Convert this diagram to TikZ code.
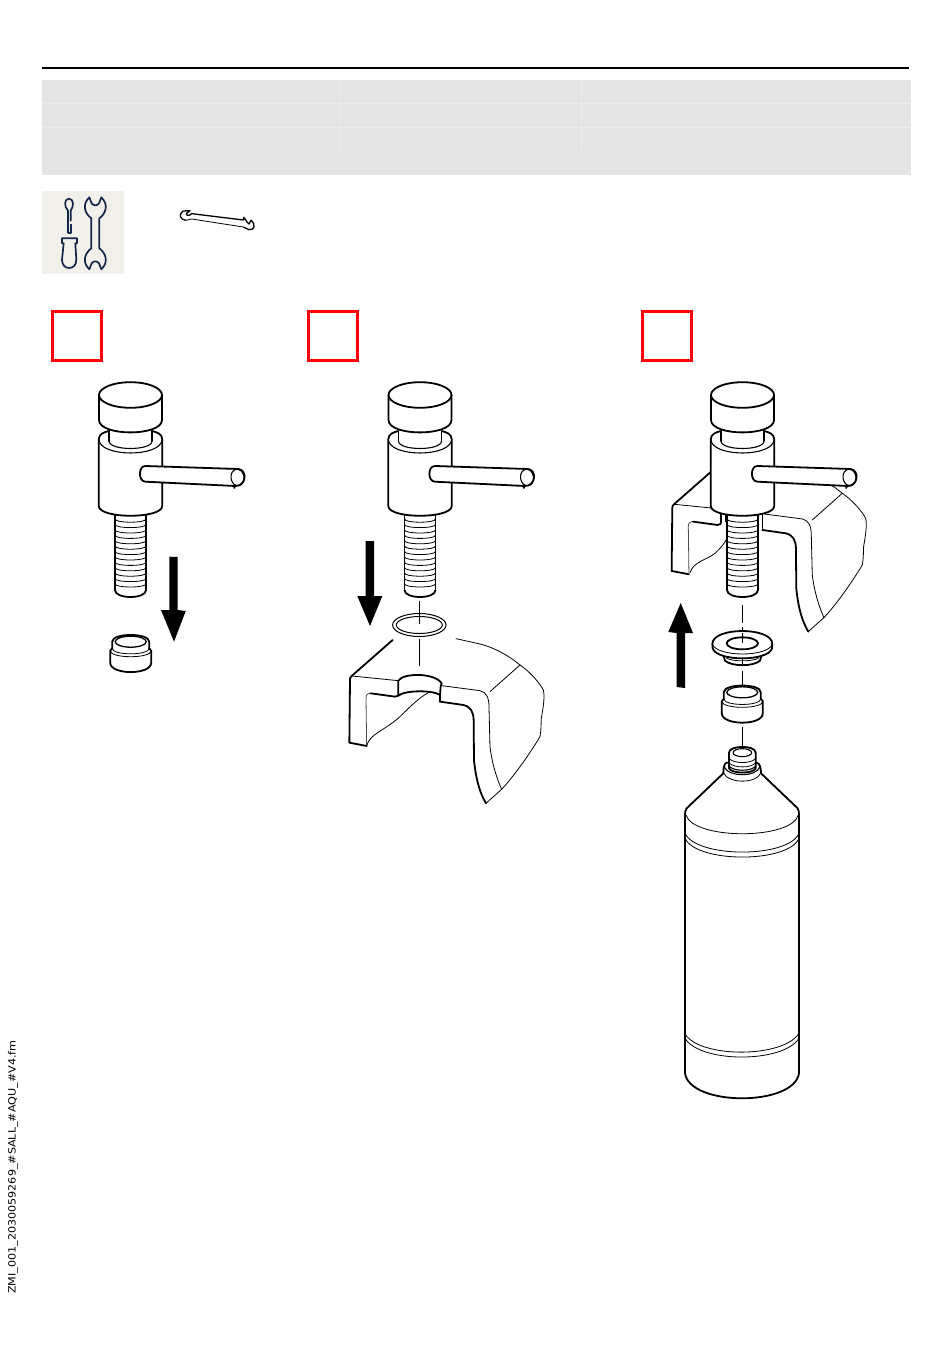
\documentclass[tikz,border=0pt]{standalone}
\usepackage{fontspec}
\setmainfont{DejaVu Sans}
\definecolor{band}{HTML}{E4E4E4}
\definecolor{bandline}{HTML}{EBEBEB}
\definecolor{iconbg}{HTML}{F1F0EB}
\definecolor{navy}{HTML}{16264A}
\tikzset{
  thick line/.style={line width=1.8pt,line join=round,line cap=round},
  med line/.style={line width=1.1pt,line join=round,line cap=round},
  thin line/.style={line width=.8pt,line join=round,line cap=round},
  redbox/.style={draw=red,line width=3pt,fill=white},
  blockarrow/.style={fill=black,draw=none},
  iconline/.style={draw=navy,line width=1.7pt,line join=round,line cap=round},
  axisline/.style={line width=.8pt,black},
}
\newcommand{\larc}[4][med line]{\draw[#1] (-#2,#3) .. controls (-#2,{#3+1.33*#4}) and (#2,{#3+1.33*#4}) .. (#2,#3);}
\newcommand{\myfaucet}[1]{%
\begin{scope}[shift={(#1,0)}]
  \fill[white] (-15.5,505) -- (-15.5,590) .. controls (-15.5,599) and (15.5,599) .. (15.5,590) -- (15.5,505) -- cycle;
  \draw[med line] (-15.5,505) -- (-15.5,590);
  \draw[med line] (15.5,505) -- (15.5,590);
  \foreach \yy in {519,524.4,529.8,535.2,540.6,546,551.4,556.8,562.2,567.6,573,578.4,583.8}{\larc[thin line]{15.5}{\yy}{3.2}}
  \larc[thick line]{15.5}{590}{7}
  \fill[white] (-31.7,439) -- (-31.7,506) .. controls (-31.7,519) and (31.7,519) .. (31.7,506) -- (31.7,439) .. controls (31.7,434) and (26,432) .. (21.5,431) -- (-21.5,431) .. controls (-26,432) and (-31.7,434) .. (-31.7,439) -- cycle;
  \draw[thick line] (-21.5,431) .. controls (-26,432) and (-31.7,434) .. (-31.7,439) -- (-31.7,506) .. controls (-31.7,519) and (31.7,519) .. (31.7,506) -- (31.7,439) .. controls (31.7,434) and (26,432) .. (21.5,431);
  \larc[med line]{31.7}{439}{14}
  \draw[thick line] (-21.5,428) -- (-21.5,441);
  \draw[thick line] (21.5,428) -- (21.5,441);
  \larc[med line]{21.5}{441}{7.5}
  \fill[white] (-31.5,395) -- (-31.5,420) .. controls (-31.5,436.5) and (31.5,436.5) .. (31.5,420) -- (31.5,395) -- cycle;
  \draw[thick line,fill=white] (0,395) ellipse [x radius=31.5,y radius=12.8];
  \draw[thick line] (-31.5,395) -- (-31.5,420) .. controls (-31.5,436.5) and (31.5,436.5) .. (31.5,420) -- (31.5,395);
  \draw[thick line,fill=white] (15,466) -- (108,469) .. controls (117,470) and (116,486) .. (105,486) -- (15,481.7) .. controls (7.5,481.5) and (7.5,466) .. (15,466) -- cycle;
  \draw[med line,rotate around={8:(107,477.5)}] (107,477.5) ellipse [x radius=6.5,y radius=8.3];
  \fill (102.5,485.5) -- (105.5,485.5) -- (104.5,488.5) -- (103,488.5) -- cycle;
\end{scope}}
\newcommand{\myaerator}[2]{%
\begin{scope}[shift={(#1,#2)}]
  \draw[thick line,fill=white] (-18.5,0) .. controls (-18.5,-9) and (18.5,-9) .. (18.5,0) -- (18.5,6.5) -- (20.5,9) -- (20.5,21) .. controls (20.5,33.5) and (-20.5,33.5) .. (-20.5,21) -- (-20.5,9) -- (-18.5,6.5) -- cycle;
  \draw[line width=1.3pt] (0,0) ellipse [x radius=15.5,y radius=5.5];
  \draw[thin line] (-18.5,6.5) .. controls (-18.5,14) and (18.5,14) .. (18.5,6.5);
  \draw[thin line] (-20.5,9) .. controls (-20.5,17) and (20.5,17) .. (20.5,9);
\end{scope}}
\newcommand{\mybasin}[2]{%
\begin{scope}[shift={(#1,#2)},x=.3333pt,y=-.3333pt]
  \draw[thick line] (158,360) -- (35,468) .. controls (30,472) and (30,475) .. (30,480) -- (28,668) -- (80,678);
  \draw[thin line] (35,468) -- (175,482);
  \draw[thin line,draw=black!70] (80,678) -- (78,535) .. controls (78,525) and (82,520) .. (92,520);
  \draw[thick line] (92,520) -- (165,530) -- (175,527);
  \draw[thick line] (300,545) -- (370,555) .. controls (392,560) and (400,575) .. (401,600) -- (402,720) .. controls (408,780) and (420,820) .. (438,850);
  \draw[thin line] (305,497) -- (420,512) .. controls (440,516) and (447,535) .. (447,560) -- (450,680) .. controls (456,730) and (470,775) .. (485,808);
  \draw[thin line] (438,850) -- (485,808) .. controls (525,765) and (570,700) .. (600,650) .. controls (604,630) and (603,610) .. (604,595) .. controls (610,560) and (615,530) .. (610,510) .. controls (600,490) and (570,455) .. (540,435) .. controls (510,410) and (470,385) .. (420,372) -- (348,356);
  \draw[thin line] (450,515) -- (540,435);
\end{scope}}
\begin{document}
\begin{tikzpicture}[x=1pt,y=-1pt]
\useasboundingbox (0,0) rectangle (950,1370);
\fill[white] (0,0) rectangle (950,1370);
\draw[line width=1.6pt] (42,68) -- (909,68);
\fill[band] (42,80) rectangle (911,175);
\draw[bandline,line width=.8pt] (42,103) -- (911,103) (42,127.3) -- (911,127.3) (340.5,80) -- (340.5,151) (581.5,80) -- (581.5,151);
\fill[iconbg] (42,191) rectangle (124,274);
\begin{scope}[shift={(42,190)},x=.3333pt,y=-.3333pt]
  \draw[iconline] (78,128) -- (78,62) .. controls (66,50) and (66,26) .. (81,26) .. controls (96,26) and (96,50) .. (86,62) -- (86,92);
  \draw[iconline] (80,128) -- (86,128) -- (86,104);
  \draw[iconline] (60,160) -- (60,145) -- (105,145) -- (105,160) -- (100,160) -- (103,210) .. controls (103,242) and (60,242) .. (60,210) -- (65,160) -- cycle;
  \draw[iconline] (148,85) .. controls (130,72) and (118,45) .. (142,22) -- (149,40) .. controls (155,48) and (165,48) .. (171,40) -- (178,22) .. controls (202,45) and (190,72) .. (172,85) -- (172,175) .. controls (190,188) and (202,215) .. (178,238) -- (171,220) .. controls (165,212) and (155,212) .. (149,220) -- (142,238) .. controls (118,215) and (130,188) .. (148,175) -- cycle;
\end{scope}
\begin{scope}[shift={(175,205)},x=.3333pt,y=-.3333pt]
  \draw[line width=1.3pt,line join=round] (32,46) .. controls (15,44) and (10,28) .. (24,18) -- (45,17) -- (35,25) .. controls (30,32) and (44,34) .. (50,26) -- (205,45) -- (207,37) .. controls (212,40) and (212,50) .. (222,57) -- (228,46) .. controls (244,60) and (238,76) .. (222,74) .. controls (214,73) and (210,66) .. (205,66);
  \draw[line width=.8pt] (32,46) -- (50,42) -- (205,66);
\end{scope}
\draw[redbox] (52,311) rectangle (101,360);
\draw[redbox] (308,311) rectangle (357,360);
\draw[redbox] (642,311) rectangle (691,360);
% step 1
\myfaucet{130.5}
\myaerator{130.7}{641.7}
\fill[blockarrow] (169.3,556.7) -- (177.7,557) -- (177.7,610) -- (185.7,611) -- (174,641.7) -- (161,610) -- (169.3,610) -- cycle;
% step 2
\myfaucet{420}
\fill[blockarrow] (365.7,541) -- (374,541) -- (374,596) -- (382.3,596) -- (370,626) -- (357.3,596) -- (365.7,596) -- cycle;
\draw[axisline] (419.3,600.7) -- (419.3,624);
\draw[axisline] (419.3,639.3) -- (419.3,665.7);
\draw[line width=1pt] (419.3,625) ellipse [x radius=26.7,y radius=11.5];
\draw[line width=1pt] (419.3,625) ellipse [x radius=23,y radius=8.5];
\mybasin{340}{520}
\begin{scope}[shift={(340,520)},x=.3333pt,y=-.3333pt]
  \draw[thin line] (80,678) .. controls (90,640) and (130,635) .. (180,590) .. controls (210,560) and (235,535) .. (265,518);
  \draw[thick line] (175,482) -- (175,527) .. controls (195,510) and (280,510) .. (300,525) -- (300,545);
  \draw[thick line] (175,482) .. controls (190,458) and (285,458) .. (305,490) -- (302,500) -- (300,525);
\end{scope}
% step 3
\mybasin{662.3}{348.3}
\begin{scope}[shift={(660,450)},x=.3333pt,y=-.3333pt]
  \draw[thin line] (90,368) .. controls (100,335) and (140,330) .. (165,310) .. controls (180,295) and (192,285) .. (202,262);
  \draw[med line] (183,185) -- (183,220);
  \draw[med line] (197,190) -- (197,215);
  \draw[med line] (296,190) -- (296,215);
  \draw[med line] (308,190) -- (308,235);
\end{scope}
\myfaucet{742.5}
\draw[axisline,dash pattern=on 18pt off 4pt] (742.5,605) -- (742.5,643);
\draw[axisline] (742.5,671) -- (742.5,685);
\draw[axisline] (742.5,727) -- (742.5,747);
\fill[blockarrow] (680.7,603) -- (693,633) -- (685,633) -- (685,688) -- (676.7,687) -- (676.7,633) -- (668.3,632) -- cycle;
\begin{scope}[shift={(660,620)},x=.3333pt,y=-.3333pt]
  \draw[thick line,fill=white] (190,105) -- (195,122) .. controls (215,140) and (280,140) .. (300,122) -- (305,105) -- cycle;
  \draw[thin line] (247,118) -- (247,132);
  \draw[thin line] (200,115) .. controls (220,125) and (275,125) .. (295,115);
  \draw[thick line,fill=white] (157,72) -- (158,85) .. controls (170,125) and (325,125) .. (336,85) -- (337,72) .. controls (337,20) and (157,20) .. (157,72) -- cycle;
  \draw[thin line] (157,72) .. controls (170,112) and (325,112) .. (337,72);
  \draw[thick line] (247,70) ellipse [x radius=47,y radius=18];
  \draw[axisline] (247,40) -- (247,70);
\end{scope}
\myaerator{742.3}{692.3}
% bottle
\begin{scope}[shift={(660,620)},x=.3333pt,y=-.3333pt]
  \draw[thick line] (190,460) -- (80,565) .. controls (76,570) and (75,575) .. (75,590) -- (75,1360) .. controls (90,1460) and (402,1460) .. (417,1360) -- (417,590) .. controls (417,575) and (416,570) .. (413,565) -- (303,460) .. controls (303,445) and (300,430) .. (290,428) -- (200,428) .. controls (192,430) and (190,445) .. (190,460);
  \draw[thin line] (78,585) .. controls (100,660) and (395,660) .. (415,585);
  \draw[thin line] (75,640) .. controls (110,715) and (385,715) .. (417,640);
  \draw[thin line] (75,655) .. controls (110,730) and (385,730) .. (417,655);
  \draw[thin line] (190,458) .. controls (205,492) and (290,492) .. (303,458);
  \draw[med line] (192,440) .. controls (205,472) and (290,472) .. (300,440);
  \draw[thick line,fill=white] (207,398) .. controls (207,375) and (287,375) .. (287,398) -- (287,445) .. controls (280,462) and (215,462) .. (207,445) -- cycle;
  \draw[med line] (247,398) ellipse [x radius=28,y radius=12];
  \draw[thin line] (207,415) .. controls (220,432) and (275,432) .. (287,415);
  \draw[thin line] (207,428) .. controls (220,445) and (275,445) .. (287,428);
  \draw[med line] (207,438) .. controls (220,455) and (275,455) .. (287,438);
  \draw[thin line] (75,1242) .. controls (120,1315) and (370,1315) .. (417,1240);
  \draw[thin line] (75,1255) .. controls (120,1330) and (370,1330) .. (417,1255);
\end{scope}
\node[rotate=90,anchor=west,inner sep=0pt,xscale=1.115,font=\fontsize{10}{12}\selectfont] (sidetext) at (13,1294) {ZMI\_001\_2030059269\_\#SALL\_\#AQU\_\#V4.fm};
\end{tikzpicture}
\end{document}
